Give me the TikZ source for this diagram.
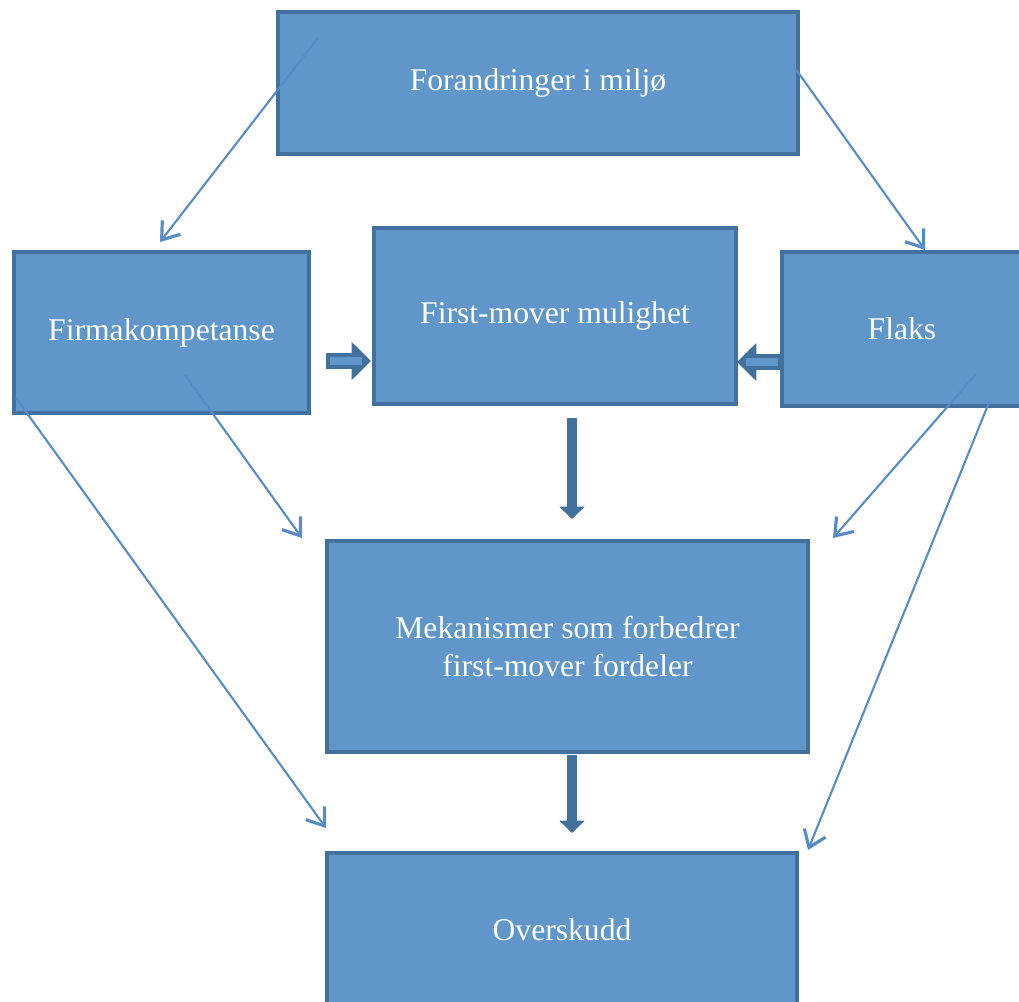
\documentclass[tikz,border=0pt]{standalone}
\usepackage{fontspec}
\setmainfont{Liberation Serif}
\usetikzlibrary{arrows.meta}
\definecolor{boxfill}{RGB}{96,150,201}
\definecolor{boxline}{RGB}{65,113,156}
\definecolor{thinline}{RGB}{88,140,200}
\tikzstyle{stepbox} = [draw=boxline,line width=2pt,fill=boxfill,text=white,align=center,font=\fontsize{18}{22}\selectfont]
\tikzstyle{thinarrow} = [draw=thinline,line width=1.2pt,-{Straight Barb[length=9pt,width=13pt,line width=1.8pt]}]
\tikzstyle{fatarrow} = [draw=boxline,line width=9.5pt,-{Triangle[length=11pt,width=21pt]}]
\tikzstyle{downarrow} = [draw=boxline,line width=5.8pt,-{Triangle[length=7pt,width=14pt]}]

\begin{document}
\begin{tikzpicture}[x=0.02cm,y=-0.02cm]
  \useasboundingbox (0,0) rectangle (1019,1002);
  \node[stepbox,minimum width=10.4cm,minimum height=2.84cm] (miljo) at (538,83) {Forandringer i milj\o};
  \node[stepbox,minimum width=5.9cm,minimum height=3.22cm] (firma) at (161.5,332.5) {Firmakompetanse};
  \node[stepbox,minimum width=7.24cm,minimum height=3.52cm] (first) at (555,316) {First-mover mulighet};
  \node[stepbox,minimum width=4.8cm,minimum height=3.08cm] (flaks) at (902,329) {Flaks};
  \node[stepbox,minimum width=9.62cm,minimum height=4.22cm] (mek) at (567.5,646.5) {Mekanismer som forbedrer\\first-mover fordeler};
  \node[stepbox,minimum width=9.4cm,minimum height=3.08cm] (over) at (562,930) {Overskudd};

  % ends of the thin arrows
  \coordinate (m1) at (318,38);
  \coordinate (m2) at (795,68);
  \coordinate (f1) at (185,375);
  \coordinate (f2) at (16,398);
  \coordinate (k1) at (976,374);
  \coordinate (k2) at (990,400);
  \coordinate (firmaIn) at (160,242);
  \coordinate (flaksIn) at (925,250);
  \coordinate (mekInL) at (302,538);
  \coordinate (mekInR) at (833,538);
  \coordinate (overInL) at (326,828);
  \coordinate (overInR) at (808,850);

  % ends of the block arrows
  \coordinate (fa1) at (326,361);
  \coordinate (fa2) at (371,361);
  \coordinate (fb1) at (782,362);
  \coordinate (fb2) at (737,362);
  \coordinate (fc1) at (572,418);
  \coordinate (fc2) at (572,519);
  \coordinate (fd1) at (572,755);
  \coordinate (fd2) at (572,833);

  \draw[thinarrow] (m1) -- (firmaIn);
  \draw[thinarrow] (m2) -- (flaksIn);
  \draw[thinarrow] (f1) -- (mekInL);
  \draw[thinarrow] (f2) -- (overInL);
  \draw[thinarrow] (k1) -- (mekInR);
  \draw[thinarrow] (k2) -- (overInR);

  \draw[fatarrow] (fa1) -- (fa2);
  \draw[fatarrow] (fb1) -- (fb2);
  \draw[boxfill,line width=4pt] ([xshift=2.3pt]fa1) -- ([xshift=-5pt]fa2);
  \draw[boxfill,line width=4pt] ([xshift=-2.3pt]fb1) -- ([xshift=5pt]fb2);
  \draw[downarrow] (fc1) -- (fc2);
  \draw[downarrow] (fd1) -- (fd2);
\end{tikzpicture}
\end{document}
